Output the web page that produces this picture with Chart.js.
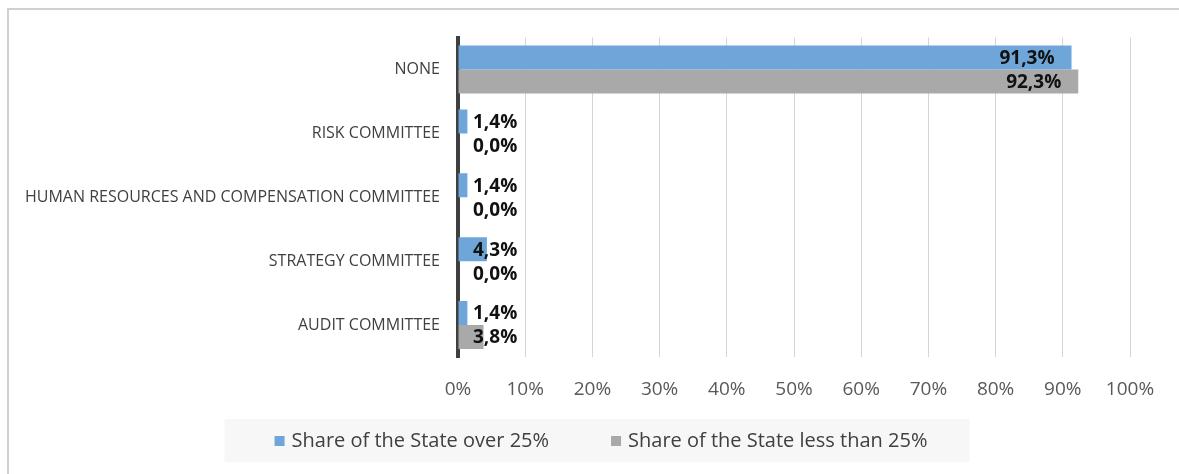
<!DOCTYPE html>
<html>
<head>
<meta charset="utf-8">
<script src="https://cdn.jsdelivr.net/npm/chart.js@4.4.0/dist/chart.umd.min.js"></script>
<style>
  html, body { margin: 0; padding: 0; background: #fff; overflow: hidden; }
  #frame {
    position: absolute; left: 7px; top: 8px;
    width: 1176px; height: 466px;
    border-left: 2px solid #d0d0d0; border-top: 2px solid #d0d0d0;
  }
</style>
</head>
<body>
<div id="frame"><canvas id="chart-data" width="1176" height="464"></canvas></div>
<script>
var categories = [
    "NONE",
    "RISK COMMITTEE",
    "HUMAN RESOURCES AND COMPENSATION COMMITTEE",
    "STRATEGY COMMITTEE",
    "AUDIT COMMITTEE",
];
var seriesNames = ["Share of the State over 25%", "Share of the State less than 25%"];
var shareOver25 = [91.3, 1.4, 1.4, 4.3, 1.4];
var shareUnder25 = [92.3, 0.0, 0.0, 0.0, 3.8];
var seriesColors = ["#6fa6d9", "#a9a9a9"];
var xTicks = [0, 10, 20, 30, 40, 50, 60, 70, 80, 90, 100];

var FONT = '"Open Sans", "DejaVu Sans", sans-serif';

function pct(v) {
    return v.toFixed(1).replace(".", ",") + "%";
}

// value labels: inside the bar end when it fits, otherwise just right of the axis
var barLabels = {
    id: "barLabels",
    afterDatasetsDraw: function (chart) {
        var ctx = chart.ctx;
        var left = chart.chartArea.left;
        ctx.save();
        ctx.font = "bold 19px " + FONT;
        ctx.fillStyle = "#111111";
        ctx.textBaseline = "middle";
        chart.data.datasets.forEach(function (ds, di) {
            chart.getDatasetMeta(di).data.forEach(function (bar, i) {
                var text = pct(ds.data[i]);
                var w = ctx.measureText(text).width;
                if (bar.x - bar.base > w + 30) {
                    ctx.textAlign = "right";
                    ctx.fillText(text, bar.x - 17, bar.y + 1);
                } else {
                    ctx.textAlign = "left";
                    ctx.fillText(text, left + 15, bar.y + 1);
                }
            });
        });
        ctx.restore();
    },
};

// legend in a shaded box under the axis
var legendBox = {
    id: "legendBox",
    afterDraw: function (chart) {
        var ctx = chart.ctx;
        ctx.save();
        ctx.font = "20px " + FONT;
        var sq = 10, gapText = 7, gapItem = 62;
        var widths = seriesNames.map(function (n) { return ctx.measureText(n).width; });
        var total = 0;
        widths.forEach(function (w, i) { total += sq + gapText + w + (i ? gapItem : 0); });
        var boxW = total + 92;
        var boxL = chart.width / 2 - boxW / 2;
        var cy = 430;
        ctx.fillStyle = "#f7f7f7";
        ctx.fillRect(boxL, cy - 21, boxW, 43);
        var x = boxL + 50;
        ctx.textBaseline = "middle";
        ctx.textAlign = "left";
        seriesNames.forEach(function (name, i) {
            ctx.fillStyle = seriesColors[i];
            ctx.fillRect(x, cy - 4, sq, sq);
            x += sq + gapText;
            ctx.fillStyle = "#404040";
            ctx.fillText(name, x, cy + 1);
            x += widths[i] + gapItem;
        });
        ctx.restore();
    },
};

var ctx = document.getElementById("chart-data").getContext("2d");
var chart = new Chart(ctx, {
    type: "bar",
    data: {
        labels: categories,
        datasets: [
            {
                label: seriesNames[0],
                data: shareOver25,
                backgroundColor: seriesColors[0],
                categoryPercentage: 0.75,
                barPercentage: 1.0,
            },
            {
                label: seriesNames[1],
                data: shareUnder25,
                backgroundColor: seriesColors[1],
                categoryPercentage: 0.75,
                barPercentage: 1.0,
            },
        ],
    },
    options: {
        indexAxis: "y",
        responsive: false,
        animation: false,
        layout: {
            padding: { left: 0, right: 55, top: 26, bottom: 72 },
        },
        plugins: {
            legend: { display: false },
            tooltip: { enabled: false },
        },
        scales: {
            x: {
                min: 0,
                max: 100,
                afterBuildTicks: function (scale) {
                    scale.ticks = xTicks.map(function (v) { return { value: v }; });
                },
                afterFit: function (scale) {
                    scale.height = 45;
                },
                grid: {
                    color: "#d4d4d4",
                    lineWidth: 1,
                    drawTicks: false,
                },
                border: { display: false },
                ticks: {
                    color: "#595959",
                    font: { family: FONT, size: 19 },
                    padding: 21,
                    callback: function (v) { return v + "%"; },
                },
            },
            y: {
                z: 1,
                afterFit: function (scale) {
                    scale.width = 449;
                },
                grid: { display: false, drawTicks: false },
                border: { display: true, color: "#3f3f3f", width: 4 },
                ticks: {
                    color: "#404040",
                    font: { family: FONT, size: 16 },
                    padding: 18,
                },
            },
        },
    },
    plugins: [barLabels, legendBox],
});
</script>
</body>
</html>
